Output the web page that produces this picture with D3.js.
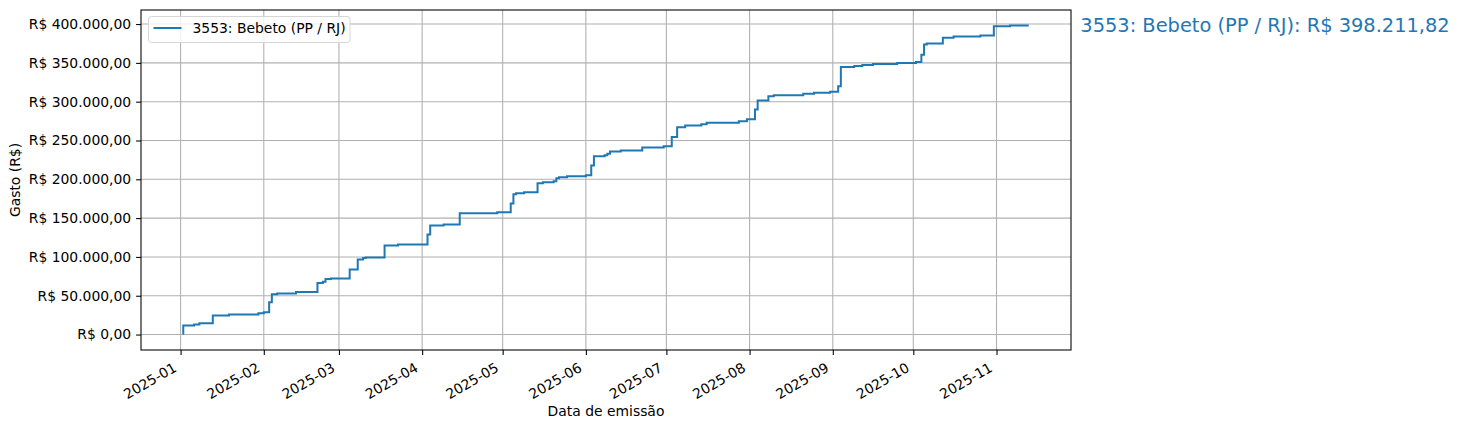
<!DOCTYPE html>
<html>
<head>
<meta charset="utf-8">
<script src="https://cdn.jsdelivr.net/npm/d3@7"></script>
<style>
body { margin: 0; background: #fff; }
text { font-family: "DejaVu Sans", sans-serif; }
</style>
</head>
<body>
<script>
// cumulative spending
var seriesName = "3553: Bebeto (PP / RJ)";
var dates = ["2025-01-02","2025-01-02","2025-01-06","2025-01-08","2025-01-13","2025-01-19","2025-01-30",
        "2025-02-01","2025-02-03","2025-02-04","2025-02-06","2025-02-13","2025-02-21","2025-02-23","2025-02-24","2025-02-26",
        "2025-03-05","2025-03-08","2025-03-10","2025-03-11","2025-03-18","2025-03-23",
        "2025-04-03","2025-04-04","2025-04-09","2025-04-15","2025-04-29",
        "2025-05-04","2025-05-05","2025-05-06","2025-05-09","2025-05-14","2025-05-16","2025-05-20","2025-05-21","2025-05-22","2025-05-25",
        "2025-06-01","2025-06-03","2025-06-04","2025-06-08","2025-06-09","2025-06-10","2025-06-14","2025-06-22","2025-06-30",
        "2025-07-03","2025-07-05","2025-07-08","2025-07-14","2025-07-16","2025-07-28","2025-07-31",
        "2025-08-03","2025-08-04","2025-08-08","2025-08-10","2025-08-21","2025-08-25","2025-08-31",
        "2025-09-03","2025-09-04","2025-09-09","2025-09-12","2025-09-16","2025-09-25",
        "2025-10-02","2025-10-04","2025-10-05","2025-10-06","2025-10-12","2025-10-16","2025-10-26","2025-10-31",
        "2025-11-06","2025-11-13"];
var totals = [0, 11550, 12800, 14500, 24400, 25700, 27400,
        28600, 41500, 51800, 53000, 54800, 66400, 68000, 71500, 72300,
        83900, 96700, 98500, 99300, 114700, 116000,
        128800, 140400, 141700, 156300, 157600,
        168800, 180700, 182000, 183300, 194900, 196200, 197500, 201300, 202600, 203900,
        205200, 217700, 229700, 231000, 232800, 235800, 237100, 240900, 242600,
        254500, 267200, 269300, 271000, 272800, 274800, 277400,
        289900, 301500, 307000, 308300, 310100, 311400, 312700,
        319900, 344800, 346100, 347400, 348700, 349800,
        351200, 360600, 373800, 375100, 382400, 384100, 385400, 397200,
        398211.82, 398211.82];
var yTicks = [0, 50000, 100000, 150000, 200000, 250000, 300000, 350000, 400000];
var xTickMonths = ["2025-01","2025-02","2025-03","2025-04","2025-05","2025-06","2025-07","2025-08","2025-09","2025-10","2025-11"];

var W = 1460, H = 430;
var plotL = 141, plotR = 1071, plotT = 10, plotB = 350;
var blue = "#1f77b4";
var fs = '13.9px';

var parseDay = d3.utcParse("%Y-%m-%d");
var parseMonth = d3.utcParse("%Y-%m");
var points = dates.map(function(d, i) { return {date: parseDay(d), value: totals[i]}; });

var brl = d3.formatLocale({decimal: ",", thousands: ".", grouping: [3], currency: ["R$ ", ""]}).format("$,.2f");

// matplotlib style 5% margins
var xExt = d3.extent(points, function(d) { return d.date; });
var xPad = (xExt[1] - xExt[0]) * 0.05;
var x = d3.scaleUtc()
        .domain([new Date(+xExt[0] - xPad), new Date(+xExt[1] + xPad)])
        .range([plotL, plotR]);
var yExt = d3.extent(points, function(d) { return d.value; });
var yPad = (yExt[1] - yExt[0]) * 0.05;
var y = d3.scaleLinear()
        .domain([yExt[0] - yPad, yExt[1] + yPad])
        .range([plotB, plotT]);

var svg = d3.select('body').append('svg')
        .attr('width', W)
        .attr('height', H);

// grid
var grid = svg.append('g').attr('stroke', '#b0b0b0').attr('stroke-width', 1.07);
grid.selectAll('line.gx').data(xTickMonths).enter().append('line')
        .attr('x1', function(d) { return x(parseMonth(d)); })
        .attr('x2', function(d) { return x(parseMonth(d)); })
        .attr('y1', plotT).attr('y2', plotB);
grid.selectAll('line.gy').data(yTicks).enter().append('line')
        .attr('x1', plotL).attr('x2', plotR)
        .attr('y1', function(d) { return y(d); })
        .attr('y2', function(d) { return y(d); });

// the step line
var line = d3.line()
        .x(function(d) { return x(d.date); })
        .y(function(d) { return y(d.value); })
        .curve(d3.curveStepAfter);
svg.append('path')
        .datum(points)
        .attr('d', line)
        .attr('fill', 'none')
        .attr('stroke', blue)
        .attr('stroke-width', 2);

// axes
var xAxis = d3.axisBottom(x)
        .tickValues(xTickMonths.map(parseMonth))
        .tickFormat(d3.utcFormat("%Y-%m"))
        .tickSize(4.9)
        .tickPadding(4.9);
var gx = svg.append('g')
        .attr('transform', 'translate(0,' + plotB + ')')
        .call(xAxis);
gx.select('.domain').remove();
gx.selectAll('.tick line').attr('stroke', '#000').attr('stroke-width', 1.07);
gx.selectAll('.tick text')
        .attr('font-size', fs)
        .attr('fill', '#000')
        .attr('text-anchor', 'end')
        .attr('y', 0).attr('dy', 0)
        .attr('transform', 'translate(-3.5,20.5) rotate(-30)');

var yAxis = d3.axisLeft(y)
        .tickValues(yTicks)
        .tickFormat(brl)
        .tickSize(4.9)
        .tickPadding(4.9);
var gy = svg.append('g')
        .attr('transform', 'translate(' + plotL + ',0)')
        .call(yAxis);
gy.select('.domain').remove();
gy.selectAll('.tick line').attr('stroke', '#000').attr('stroke-width', 1.07);
gy.selectAll('.tick text')
        .attr('font-size', fs)
        .attr('fill', '#000')
        .attr('font-family', '"DejaVu Sans", sans-serif');

svg.append('rect')
        .attr('x', plotL).attr('y', plotT)
        .attr('width', plotR - plotL).attr('height', plotB - plotT)
        .attr('fill', 'none')
        .attr('stroke', '#000')
        .attr('stroke-width', 1.07);

// axis labels
svg.append('text')
        .attr('x', (plotL + plotR) / 2)
        .attr('y', 416)
        .attr('text-anchor', 'middle')
        .attr('font-size', fs)
        .text('Data de emissão');
svg.append('text')
        .attr('transform', 'translate(20,' + (plotT + plotB) / 2 + ') rotate(-90)')
        .attr('text-anchor', 'middle')
        .attr('font-size', fs)
        .text('Gasto (R$)');

// legend
var lg = svg.append('g').attr('transform', 'translate(148.5,16.5)');
lg.append('rect')
        .attr('width', 201.5).attr('height', 26)
        .attr('rx', 3)
        .attr('fill', '#fff').attr('fill-opacity', 0.8)
        .attr('stroke', '#d6d6d6');
lg.append('line')
        .attr('x1', 5).attr('x2', 33)
        .attr('y1', 11.5).attr('y2', 11.5)
        .attr('stroke', blue).attr('stroke-width', 2);
lg.append('text')
        .attr('x', 44).attr('y', 16.5)
        .attr('font-size', fs)
        .text(seriesName);

// final total annotation on the right
var last = points[points.length - 1];
svg.append('text')
        .attr('x', plotR + (plotR - plotL) * 0.01)
        .attr('y', y(last.value))
        .attr('dy', '0.35em')
        .attr('font-size', '19.4px')
        .attr('fill', blue)
        .text(seriesName + ': ' + brl(last.value));
</script>
</body>
</html>
